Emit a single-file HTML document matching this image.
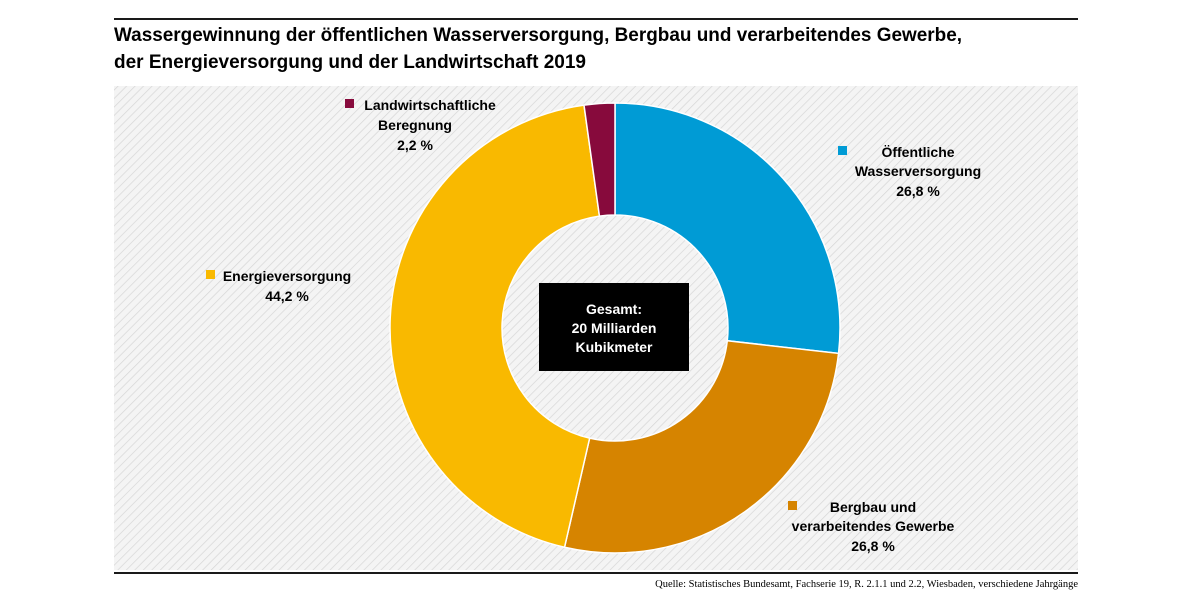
<!DOCTYPE html>
<html><head><meta charset="utf-8"><style>
body{margin:0;background:#fff;}
svg text{font-family:"Liberation Sans",sans-serif;}
</style></head><body>
<svg width="1200" height="602" viewBox="0 0 1200 602" xmlns="http://www.w3.org/2000/svg">
<defs>
<pattern id="h" width="6" height="6" patternUnits="userSpaceOnUse" patternTransform="rotate(45)">
<rect width="6" height="6" fill="#f4f4f4"/>
<line x1="0" y1="0" x2="0" y2="6" stroke="#d6d6d6" stroke-width="1.4"/>
</pattern>
</defs>
<line x1="114" y1="19" x2="1078" y2="19" stroke="#1a1a1a" stroke-width="2"/>
<text x="114" y="41" font-size="19.5" font-weight="bold" fill="#000" textLength="848" lengthAdjust="spacingAndGlyphs">Wassergewinnung der öffentlichen Wasserversorgung, Bergbau und verarbeitendes Gewerbe,</text>
<text x="114" y="68" font-size="19.5" font-weight="bold" fill="#000" textLength="472" lengthAdjust="spacingAndGlyphs">der Energieversorgung und der Landwirtschaft 2019</text>
<rect x="114" y="86" width="964" height="484" fill="url(#h)"/>
<line x1="114" y1="573" x2="1078" y2="573" stroke="#1a1a1a" stroke-width="2"/>
<text x="1078" y="587" font-size="10.5" font-family="Liberation Serif,serif" text-anchor="end" style="font-family:'Liberation Serif',serif">Quelle: Statistisches Bundesamt, Fachserie 19, R. 2.1.1 und 2.2, Wiesbaden, verschiedene Jahrgänge</text>
<g id="donut" stroke="#fff" stroke-width="1.5"></g>
<rect x="539" y="283" width="150" height="88" fill="#000"/>
<g font-size="14" font-weight="bold" text-anchor="middle">
<text x="614" y="314" fill="#fff">Gesamt:</text>
<text x="614" y="333" fill="#fff">20 Milliarden</text>
<text x="614" y="352" fill="#fff">Kubikmeter</text>
<rect x="345" y="99" width="9" height="9" fill="#870a3c"/>
<text x="430" y="110">Landwirtschaftliche</text>
<text x="415" y="130">Beregnung</text>
<text x="415" y="150">2,2 %</text>
<rect x="838" y="146" width="9" height="9" fill="#009bd5"/>
<text x="918" y="157">Öffentliche</text>
<text x="918" y="176">Wasserversorgung</text>
<text x="918" y="196">26,8 %</text>
<rect x="206" y="270" width="9" height="9" fill="#f9b900"/>
<text x="287" y="281">Energieversorgung</text>
<text x="287" y="301">44,2 %</text>
<rect x="788" y="501" width="9" height="9" fill="#d68400"/>
<text x="873" y="512">Bergbau und</text>
<text x="873" y="531">verarbeitendes Gewerbe</text>
<text x="873" y="551">26,8 %</text>
</g>
<script>
(function(){
var cx=615,cy=328,R=225,r=113,g=document.getElementById('donut');
var d=[[26.8,'#009bd5'],[26.8,'#d68400'],[44.2,'#f9b900'],[2.2,'#870a3c']];
var c=0;
function p(a,rad){return [cx+rad*Math.cos(a),cy+rad*Math.sin(a)];}
d.forEach(function(s){
var a0=-Math.PI/2+c/100*2*Math.PI;c+=s[0];var a1=-Math.PI/2+c/100*2*Math.PI;
var lg=(a1-a0)>Math.PI?1:0;
var A=p(a0,R),B=p(a1,R),C=p(a1,r),D=p(a0,r);
var e=document.createElementNS('http://www.w3.org/2000/svg','path');
e.setAttribute('d','M'+A+' A'+R+' '+R+' 0 '+lg+' 1 '+B+' L'+C+' A'+r+' '+r+' 0 '+lg+' 0 '+D+'Z');
e.setAttribute('fill',s[1]);g.appendChild(e);
});
})();
</script>
</svg>
</body></html>
